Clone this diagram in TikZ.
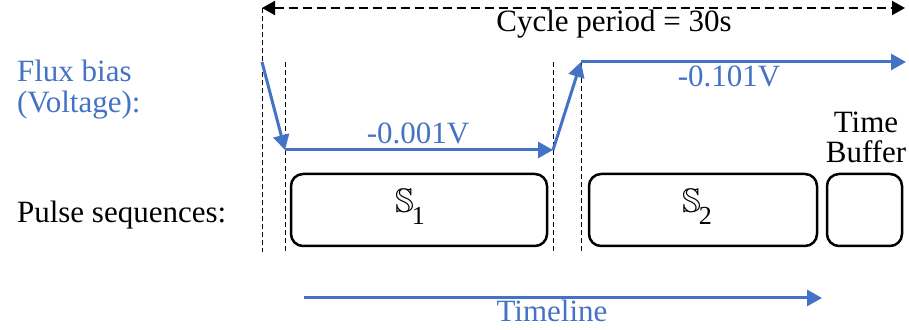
\documentclass[tikz,border=0pt]{standalone}
\usepackage{fontspec}
\setmainfont{Liberation Serif}
\usepackage{amssymb}
\usetikzlibrary{arrows.meta}
\definecolor{azul}{HTML}{4472C4}
\begin{document}
\begin{tikzpicture}[x=.5pt, y=-.5pt, font=\fontsize{15.5}{18}\selectfont]
\tikzstyle{caixa}=[draw=black, line width=1.25pt, rounded corners=6pt, minimum height=36pt, inner sep=0]
\tikzstyle{fluxo}=[draw=azul, line width=1.5pt, -{Triangle[length=7.5pt, width=8pt]}]
\tikzstyle{guia}=[line width=.5pt, dash pattern=on 2.5pt off 1.5pt]
\tikzstyle{seq}=[anchor=base, font=\fontsize{17}{17}\selectfont]
\useasboundingbox (0,0) rectangle (909,330);
% periodo do ciclo
\coordinate (c0) at (262,8);
\coordinate (c1) at (905,8);
\draw[line width=1pt, dash pattern=on 4.5pt off 2.5pt, {Triangle[length=6.5pt, width=7pt]}-{Triangle[length=6.5pt, width=7pt]}](c0)--(c1);
\node[anchor=base] (ciclo) at (614,32) {Cycle period = 30s};
% linhas guia
\draw[guia](c0)--(262,252);
\foreach \x in {285, 553, 581}
\draw[guia](\x,62)--(\x,252);
% tensao de fluxo
\coordinate (f0) at (262,62);
\coordinate (f1) at (285,150);
\coordinate (f2) at (553,150);
\coordinate (f3) at (581,62);
\coordinate (f4) at (906,62);
\draw[fluxo](f0)--(f1);
\draw[fluxo](f1)--(f2);
\draw[fluxo](f2)--(f3);
\draw[fluxo](f3)--(f4);
\node[azul, anchor=base] (v1) at (418,144) {-0.001V};
\node[azul, anchor=base] (v2) at (729,87) {-0.101V};
\node[azul, anchor=base west] (flux) at (10,82) {Flux bias};
\node[azul, anchor=base west] (volt) at (10,113) {(Voltage):};
% sequencias de pulsos
\node[anchor=base west] (pulsos) at (10,223) {Pulse sequences:};
\node[caixa, minimum width=128pt] (s1) at (419,210) {};
\node[caixa, minimum width=114pt] (s2) at (703,210) {};
\node[caixa, minimum width=37.5pt] (tb) at (864.5,210) {};
\foreach \n/\x in {1/410, 2/697}
\node[seq] at (\x,213) {$\mathbb{S}$\kern-1pt\raisebox{-6pt}{\fontsize{13}{13}\selectfont\n}};
\node[anchor=base] (time) at (866,133) {Time};
\node[anchor=base] (buffer) at (866,163) {Buffer};
% linha do tempo
\coordinate (t0) at (304,298);
\coordinate (t1) at (822,298);
\draw[fluxo](t0)--(t1);
\node[azul, anchor=base] (tempo) at (552,322) {Timeline};
\end{tikzpicture}
\end{document}
